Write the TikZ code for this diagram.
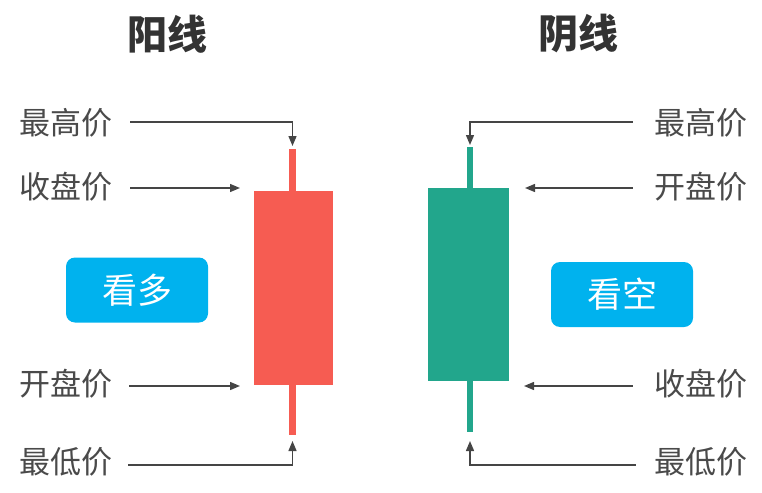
\documentclass[tikz,border=0pt]{standalone}
\usepackage{fontspec}
\setmainfont{Noto Sans CJK SC}
\usetikzlibrary{arrows.meta}
\definecolor{upred}{HTML}{F65C52}
\definecolor{downgreen}{HTML}{22A68C}
\definecolor{btnblue}{HTML}{00B2EE}
\definecolor{labgray}{HTML}{4A4A4A}
\definecolor{titlegray}{HTML}{333333}
\definecolor{arrgray}{HTML}{454545}
\begin{document}
\begin{tikzpicture}[x=1pt,y=-1pt,
  lab/.style={inner sep=0pt, text=labgray, font=\fontsize{31}{35}\selectfont},
  ttl/.style={inner sep=0pt, text=titlegray, font=\fontsize{40}{44}\selectfont\bfseries},
  btn/.style={fill=btnblue, rounded corners=9pt, minimum width=142pt, minimum height=65pt, inner sep=0pt, text=white, font=\fontsize{35}{40}\selectfont},
  bar/.style={inner sep=0pt, outer sep=0pt, anchor=north west},
  conn/.style={draw=arrgray, line width=1.4pt, -{Triangle[length=10pt,width=8pt]}}
]
\useasboundingbox (0,0) rectangle (762,492);

% titles
\node[ttl] (t1) at (167,34) {阳线};
\node[ttl] (t2) at (578,34) {阴线};

% up candle
\node[bar, fill=upred, minimum width=7pt, minimum height=286pt] (upwick) at (289,149) {};
\node[bar, fill=upred, minimum width=79pt, minimum height=194pt] (upbody) at (254,191) {};

% down candle
\node[bar, fill=downgreen, minimum width=6pt, minimum height=285pt] (dnwick) at (467,147) {};
\node[bar, fill=downgreen, minimum width=81pt, minimum height=193pt] (dnbody) at (428,188) {};

% buttons
\node[btn] (bull) at (137,290) {看多};
\node[btn] (bear) at (622,294.5) {看空};

% left labels
\node[lab, anchor=west] (lhigh) at (19,123) {最高价};
\node[lab, anchor=west] (lclose) at (19,187) {收盘价};
\node[lab, anchor=west] (lopen) at (19,384) {开盘价};
\node[lab, anchor=west] (llow) at (19,462) {最低价};

% right labels
\node[lab, anchor=east] (rhigh) at (748,123) {最高价};
\node[lab, anchor=east] (ropen) at (748,187) {开盘价};
\node[lab, anchor=east] (rclose) at (748,384) {收盘价};
\node[lab, anchor=east] (rlow) at (748,462) {最低价};

% arrow targets
\coordinate (lhighT) at (292.5,146);
\coordinate (lcloseT) at (240,188);
\coordinate (lopenT) at (240,386);
\coordinate (llowT) at (292.5,441);
\coordinate (rhighT) at (470,145);
\coordinate (ropenT) at (525,188);
\coordinate (rcloseT) at (524,386);
\coordinate (rlowT) at (470,441);

% left arrows
\draw[conn] ([xshift=18pt,yshift=1pt]lhigh.east) -| (lhighT);
\draw[conn] ([xshift=18pt]lclose.east |- lcloseT) -- (lcloseT);
\draw[conn] ([xshift=17pt]lopen.east |- lopenT) -- (lopenT);
\draw[conn] ([xshift=16pt]llow.east |- 0,465) -| (llowT);

% right arrows
\draw[conn] ([xshift=-22pt]rhigh.west |- 0,122) -| (rhighT);
\draw[conn] ([xshift=-22pt]ropen.west |- ropenT) -- (ropenT);
\draw[conn] ([xshift=-22pt]rclose.west |- rcloseT) -- (rcloseT);
\draw[conn] ([xshift=-19pt]rlow.west |- 0,465) -| (rlowT);
\end{tikzpicture}
\end{document}
